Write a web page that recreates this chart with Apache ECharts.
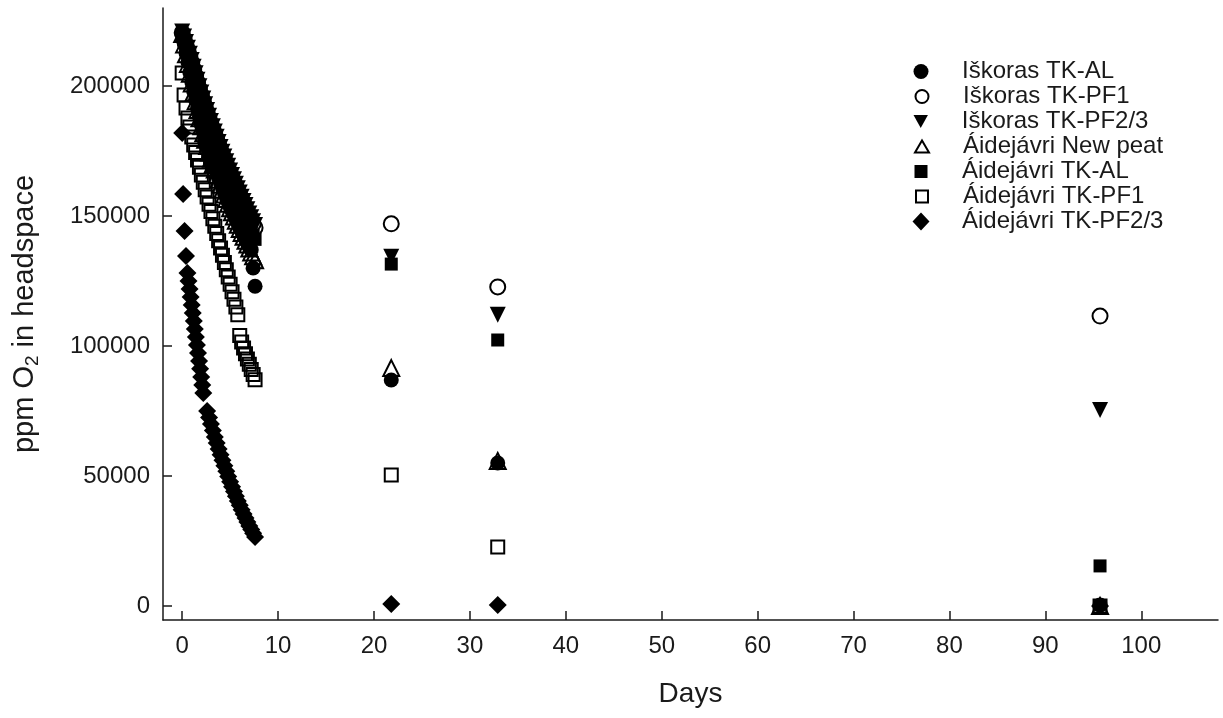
<!DOCTYPE html>
<html>
<head>
<meta charset="utf-8">
<script src="https://cdn.jsdelivr.net/npm/echarts@6/dist/echarts.min.js"></script>
<style>
  html, body { margin: 0; padding: 0; background: #fff; }
  #chart { width: 1223px; height: 718px; }
</style>
</head>
<body>
<div id="chart"></div>
<script>
// sampling days: dense incubation phase, then three late samplings
const days = [0, 0.2, 0.4, 0.6, 0.8, 1, 1.2, 1.4, 1.6, 1.8, 2, 2.2, 2.4, 2.6, 2.8, 3, 3.2, 3.4, 3.6, 3.8,
  4, 4.2, 4.4, 4.6, 4.8, 5, 5.2, 5.4, 5.6, 5.8, 6, 6.2, 6.4, 6.6, 6.8, 7, 7.2, 7.4, 7.6,
  21.8, 32.9, 95.7];
// Áidejávri TK-PF2/3 was read more often during the first two days
const diamondDays = [0, 0.1, 0.25, 0.4, 0.55, 0.66, 0.77, 0.88, 0.99, 1.1, 1.21, 1.32, 1.43, 1.54,
  1.65, 1.76, 1.87, 1.98, 2.09, 2.2, 2.6, 2.8, 3, 3.2, 3.4, 3.6, 3.8, 4, 4.2, 4.4, 4.6, 4.8, 5,
  5.2, 5.4, 5.6, 5.8, 6, 6.2, 6.4, 6.6, 6.8, 7, 7.2, 7.4, 7.6, 21.8, 32.9, 95.7];

const iskorasAL = [220500, 216600, 212700, 209100, 205200, 201600, 198000, 194700, 191300, 188200,
  185000, 182400, 179800, 177500, 174900, 172600, 170400, 168500, 166400, 164500, 162500, 160700,
  158800, 157100, 155200, 153600, 151900, 150400, 148700, 147200, 145500, 144100, 142500, 141100,
  139500, 138100, 137000, 130000, 123000, 86900, 55000, 400];
const iskorasPF1 = [220500, 218100, 215900, 213700, 211400, 209000, 206400, 203900, 201400, 198900,
  196500, 194200, 192000, 189800, 187600, 185500, 183500, 181500, 179500, 177500, 175500, 173700,
  171900, 170100, 168300, 166500, 164800, 163100, 161400, 159700, 158000, 156400, 154800, 153200,
  151600, 150000, 148500, 147000, 145500, 147000, 122700, 111500];
const iskorasPF23 = [221000, 219000, 216900, 214700, 212400, 210000, 207400, 204900, 202400, 199900,
  197500, 195200, 193000, 190800, 188600, 186500, 184500, 182500, 180500, 178500, 176500, 174700,
  172900, 171100, 169300, 167500, 165800, 164100, 162400, 160700, 159000, 157400, 155800, 154200,
  152600, 151000, 149500, 148000, 146500, 134300, 112000, 75400];
const aidejavriNewPeat = [220000, 216000, 212200, 208500, 204700, 201000, 197500, 194100, 190800, 187600,
  184500, 181800, 179300, 176900, 174400, 172000, 169900, 167900, 165900, 163900, 162000, 160100,
  158300, 156500, 154700, 153000, 151400, 149800, 148200, 146600, 145000, 143500, 142000, 140500,
  139000, 137500, 136000, 134500, 133000, 91500, 55800, 0];
const aidejavriAL = [219000, 217000, 214800, 212400, 209800, 207000, 204100, 201200, 198400, 195700,
  193000, 190600, 188300, 186000, 183700, 181500, 179400, 177400, 175400, 173400, 171500, 169600,
  167800, 166000, 164200, 162500, 160800, 159100, 157400, 155700, 154000, 152300, 150600, 148900,
  147200, 145500, 144000, 142500, 141000, 131500, 102300, 15400];
const aidejavriPF1 = [205000, 196500, 191500, 187700, 184200, 180400, 177300, 174400, 171500, 168700,
  165800, 163000, 160100, 157300, 154500, 151700, 148900, 146100, 143300, 140500, 137700, 134900,
  132100, 129300, 126500, 123700, 120900, 118000, 115000, 112000, 104000, 101500, 99200, 97000,
  95000, 93000, 91000, 89000, 87000, 50400, 22700, 0];
const aidejavriPF23 = [181900, 158500, 144200, 134600, 128100, 125000, 121900, 118800, 115800, 112700,
  109600, 106500, 103500, 100400, 97300, 94200, 91200, 88100, 85000, 81900,
  75000, 72500, 70000, 67500, 65000, 62700, 60400, 58200, 56000, 53900, 51800, 49800, 47800,
  45900, 44000, 42200, 40400, 38700, 37000, 35400, 33800, 32300, 30800, 29400, 28000, 26500,
  800, 400, 0];

const xTicks = [0, 10, 20, 30, 40, 50, 60, 70, 80, 90, 100];
const yTicks = [0, 50000, 100000, 150000, 200000];

const FONT = 'Liberation Sans, Arial, sans-serif';
const INK = '#1a1a1a';
const DOWN_TRI = 'path://M0,0L10,0L5,9Z';

// name, symbol, size, rotate, filled, x values, y values, legend icon [symbol, w, h]
const defs = [
  ['Iškoras TK-AL', 'circle', 15, 0, true, days, iskorasAL, ['circle', 15, 15]],
  ['Iškoras TK-PF1', 'circle', 15, 0, false, days, iskorasPF1, ['circle', 13, 13]],
  ['Iškoras TK-PF2/3', 'triangle', 16, 180, true, days, iskorasPF23, [DOWN_TRI, 15, 13]],
  ['Áidejávri New peat', 'triangle', 16, 0, false, days, aidejavriNewPeat, ['triangle', 14, 12]],
  ['Áidejávri TK-AL', 'rect', 13, 0, true, days, aidejavriAL, ['rect', 13, 13]],
  ['Áidejávri TK-PF1', 'rect', 13, 0, false, days, aidejavriPF1, ['rect', 12, 12]],
  ['Áidejávri TK-PF2/3', 'diamond', 18, 0, true, diamondDays, aidejavriPF23, ['diamond', 17, 18]]
];

const series = defs.map(([name, symbol, size, rot, filled, xs, vals]) => ({
  type: 'scatter',
  name: name,
  symbol: symbol,
  symbolSize: size,
  symbolRotate: rot,
  z: filled ? 3 : 2,
  silent: true,
  emphasis: { disabled: true },
  itemStyle: filled
    ? { color: '#000', opacity: 1 }
    : { color: 'rgba(255,255,255,0)', borderColor: '#000', borderWidth: 2, opacity: 1 },
  data: xs.map((d, i) => [d, vals[i]])
}));

// one legend block per row so every icon keeps its own size
const ICON_X = 921, TEXT_X = 962;
const legends = defs.map(([name, , , , , , , icon], i) => {
  const w = icon[1], h = icon[2];
  const left = ICON_X - w / 2;
  return {
    orient: 'vertical',
    left: left,
    top: 59 + 25 * i,
    padding: 0,
    itemWidth: w,
    itemHeight: h,
    selectedMode: false,
    textStyle: { fontFamily: FONT, fontSize: 24, color: INK, lineHeight: 25,
      padding: [0, 0, 0, TEXT_X - left - w - 5] },
    data: [{ name: name, icon: icon[0] }]
  };
});

const chart = echarts.init(document.getElementById('chart'), null, { renderer: 'canvas' });
chart.setOption({
  animation: false,
  backgroundColor: '#fff',
  grid: { left: 163, right: 5, top: 8, bottom: 98, containLabel: false },
  legend: legends,
  xAxis: {
    type: 'value',
    min: -2,
    max: 108,
    name: 'Days',
    nameLocation: 'middle',
    nameGap: 60,
    nameTextStyle: { fontFamily: FONT, fontSize: 28, color: INK },
    axisLine: { show: true, onZero: false, lineStyle: { color: INK, width: 1.5 } },
    axisTick: { show: true, inside: true, length: 9, customValues: xTicks, lineStyle: { color: INK, width: 1.5 } },
    axisLabel: { customValues: xTicks, fontFamily: FONT, fontSize: 24, color: INK, margin: 14 },
    splitLine: { show: false }
  },
  yAxis: {
    type: 'value',
    min: -5400,
    max: 230000,
    name: '{a|ppm O}{s|2}{a| in headspace}',
    nameLocation: 'middle',
    nameGap: 121,
    nameTextStyle: {
      fontFamily: FONT, color: INK,
      rich: {
        a: { fontFamily: FONT, fontSize: 29, color: INK },
        s: { fontFamily: FONT, fontSize: 19, color: INK, padding: [15, 0, 0, 0] }
      }
    },
    axisLine: { show: true, onZero: false, lineStyle: { color: INK, width: 1.5 } },
    axisTick: { show: true, inside: true, length: 9, customValues: yTicks, lineStyle: { color: INK, width: 1.5 } },
    axisLabel: { customValues: yTicks, fontFamily: FONT, fontSize: 24, color: INK, margin: 13,
      formatter: v => String(v) },
    splitLine: { show: false }
  },
  series: series
});
</script>
</body>
</html>
